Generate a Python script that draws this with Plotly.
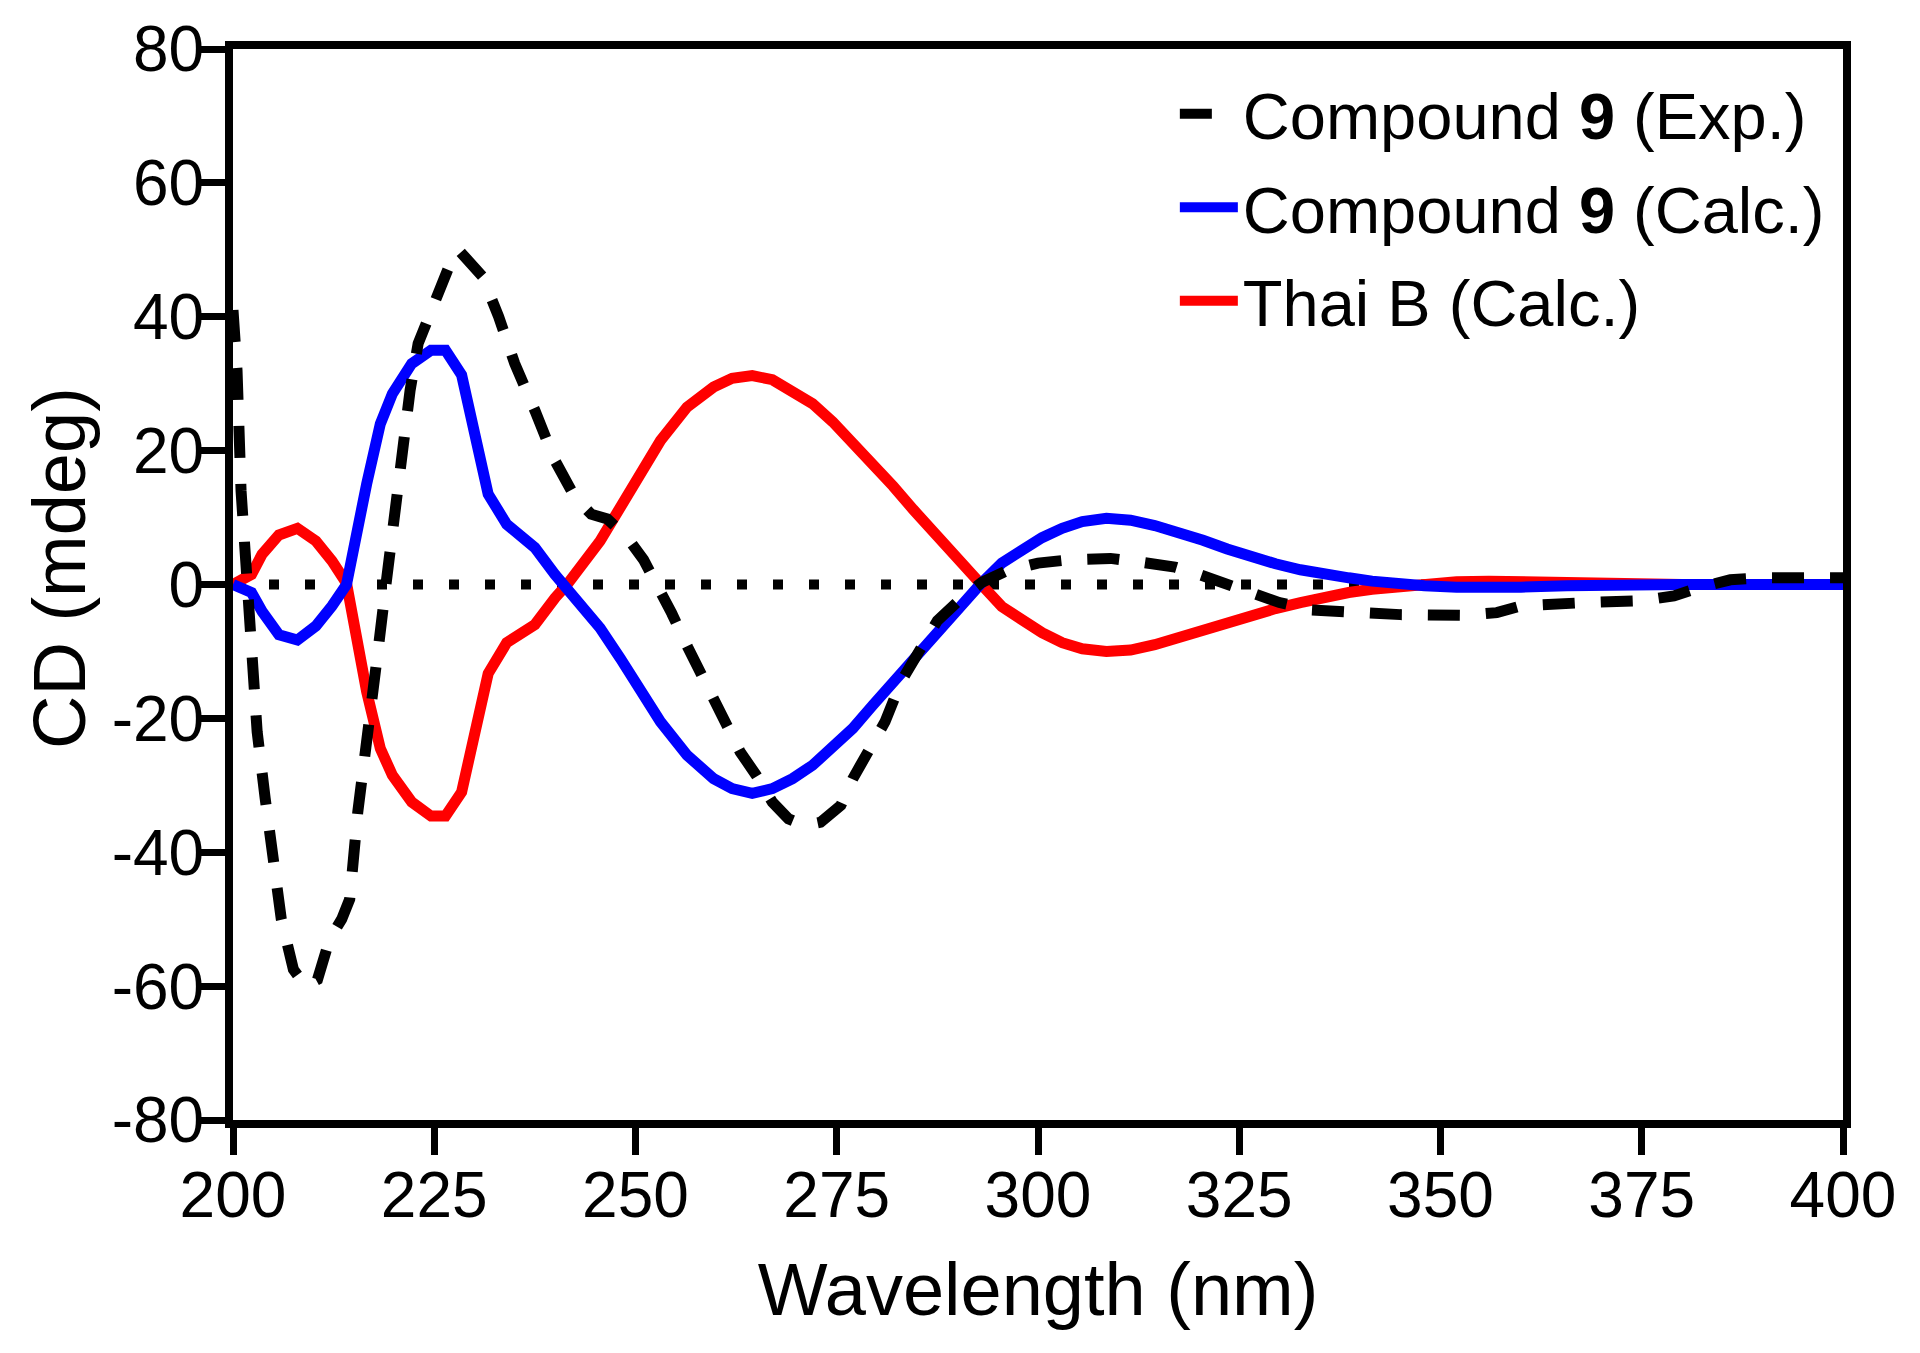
import plotly.graph_objects as go

# ---------------- data ----------------
exp_wl = [200, 200.5, 201, 201.5, 202, 202.5, 203, 204, 205, 206, 207.5, 209, 210.5, 212,
          213.5, 214.5, 215.5, 216.5, 218, 219, 220, 221, 222, 223, 225, 227, 228, 229.5,
          231, 233, 235, 237.5, 240, 242.5, 244.5, 246.5, 249, 251, 253, 254.5, 256.5,
          258.5, 261, 263, 265, 267, 269, 271, 273, 275.5, 277, 279, 281, 283, 285.5,
          287.5, 290, 293, 296, 300, 304, 309, 313, 317, 320, 323.5, 327, 330, 334, 338,
          345, 353, 357, 360, 364, 368, 375, 379, 382, 386, 390, 396, 400]
exp_cd = [41, 32, 14, 5, -6, -15, -22, -32, -42, -50, -57.5, -60, -59, -53,
          -50, -47, -34, -23, -10, 0, 10, 20, 29, 36, 42.5, 48, 50, 48,
          46, 40, 33, 26, 18.5, 13, 10.5, 9.8, 7, 3.7, -0.5, -4.3, -9.4,
          -14, -20, -25, -28.5, -32.5, -35, -36, -35.5, -33, -29, -25, -20.5, -14.5, -9,
          -5.4, -2.6, 0.3, 2, 3.2, 3.7, 3.9, 3.3, 2.6, 1.5, 0, -1.5, -2.7, -3.8, -4.1,
          -4.5, -4.6, -4.2, -3.2, -2.8, -2.7, -2.4, -1.7, -0.5, 0.7, 1.0, 1.1, 1.0]

calc_wl = [200, 202.3, 203.6, 205.7, 208, 210.3, 212.3, 214.1, 216.6, 218.3, 219.8, 222.2,
           224.6, 226.4, 228.4, 230, 231.7, 234, 237.5, 240, 241.5, 245.6, 248.1, 250.6,
           253.1, 256.4, 259.7, 262, 264.5, 267, 269.5, 272, 274.5, 277, 279.5, 282,
           284.5, 287, 289.5, 292.8, 295.5, 298, 300.5, 303, 305.5, 308.5, 311.5, 314.5,
           317.5, 320.5, 323.5, 326.5, 329.5, 332.6, 335.5, 338.6, 341.5, 344.6, 348,
           352, 356, 360, 365.7, 373, 380, 390, 400]
calc9_cd = [0, -1.2, -4.0, -7.5, -8.3, -6.2, -3.2, 0, 15, 24, 28.5, 33,
            35, 35, 31.3, 22.5, 13.5, 9, 5.5, 1.5, -0.5, -6.5, -11, -16,
            -20.5, -25.5, -29, -30.5, -31.2, -30.5, -29, -27, -24.5, -21.5, -18, -14.5,
            -11, -7.5, -4, 0, 3.2, 5.3, 7, 8.4, 9.4, 9.9, 9.6, 8.8,
            7.8, 6.6, 5.3, 4.1, 3.1, 2.2, 1.5, 1.0, 0.5, 0.1, -0.2,
            -0.4, -0.5, -0.4, -0.2, 0, 0, 0, 0]
thaib_cd = [0, 1.5, 4.5, 7.4, 8.4, 6.5, 3.5, 0.2, -16, -24.5, -28.5, -32.5,
            -34.6, -34.6, -31, -22, -13.3, -8.7, -6, -2, 0, 6.5, 11.5, 16.5,
            21.5, 26.5, 29.5, 30.8, 31.2, 30.6, 29, 27, 24.3, 21.2, 18, 14.7,
            11.2, 7.8, 4.2, 0.2, -3.3, -5.5, -7.2, -8.7, -9.6, -10, -9.8, -9,
            -7.9, -6.7, -5.6, -4.6, -3.6, -2.7, -1.9, -1.2, -0.7, -0.3, 0.1,
            0.4, 0.5, 0.4, 0.2, 0, 0, 0, 0]

zero_x = [200, 400]
zero_y = [0, 0]

x_ticks = [200, 225, 250, 275, 300, 325, 350, 375, 400]
y_ticks = [-80, -60, -40, -20, 0, 20, 40, 60, 80]
y_ticktext = ["-80", "-60", "-40", "-20", "0", "20", "40", "60", "80"]

FONT = "Liberation Sans, Arial, Helvetica, sans-serif"

fig = go.Figure()

fig.add_trace(go.Scatter(x=zero_x, y=zero_y, mode="lines",
                         line=dict(color="black", width=10, dash="10px,26px"),
                         showlegend=False, hoverinfo="skip"))
fig.add_trace(go.Scatter(x=calc_wl, y=thaib_cd, mode="lines", name="Thai B (Calc.)",
                         legendgroup="c", legendrank=3,
                         line=dict(color="#ff0000", width=11)))
fig.add_trace(go.Scatter(x=calc_wl, y=calc9_cd, mode="lines",
                         name="Compound <b>9</b> (Calc.)", legendgroup="b", legendrank=2,
                         line=dict(color="#0000ff", width=11)))
fig.add_trace(go.Scatter(x=exp_wl, y=exp_cd, mode="lines",
                         name="Compound <b>9</b> (Exp.)", legendgroup="a", legendrank=1,
                         line=dict(color="black", width=11, dash="32px,26px")))

axis_common = dict(showline=True, linewidth=8, linecolor="black", mirror=True,
                   ticks="outside", ticklen=27, tickwidth=7, tickcolor="black",
                   showgrid=False, zeroline=False,
                   tickfont=dict(family=FONT, size=64, color="black"))

fig.update_xaxes(range=[200, 400], tickvals=x_ticks, ticklabelstandoff=-15,
                 title=dict(text="Wavelength (nm)", font=dict(family=FONT, size=74, color="black"),
                            standoff=36),
                 **axis_common)
fig.update_yaxes(range=[-80, 80], tickvals=y_ticks, ticktext=y_ticktext,
                 ticklabelstandoff=-19,
                 **axis_common)

fig.add_annotation(text="CD (mdeg)", textangle=-90, xref="paper", yref="paper",
                   x=0, y=0.5154, xanchor="center", yanchor="middle", xshift=-174,
                   showarrow=False, font=dict(family=FONT, size=74, color="black"))

fig.update_layout(
    width=1920, height=1353,
    margin=dict(l=225, r=85, t=41, b=241, autoexpand=False),
    paper_bgcolor="white", plot_bgcolor="white",
    font=dict(family=FONT, color="black"),
    legend=dict(x=0.585, y=0.985, xanchor="left", yanchor="top",
                traceorder="grouped", tracegroupgap=6, itemwidth=58,
                font=dict(family=FONT, size=65, color="black"),
                bgcolor="rgba(0,0,0,0)"),
)

fig.write_html("out.html")
